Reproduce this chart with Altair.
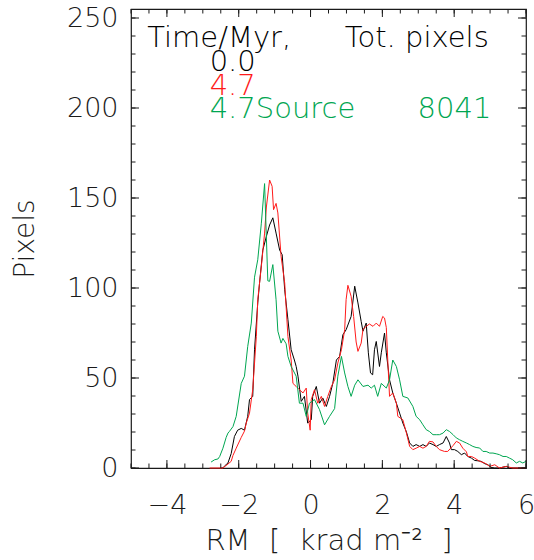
import altair as alt
import pandas as pd

# ---- data ----
rm_black = [-2.49, -2.44, -2.40, -2.30, -2.21, -2.12, -2.03, -1.93, -1.84, -1.75, -1.70, -1.61, -1.56,
            -1.47, -1.42, -1.33, -1.23, -1.14, -1.05, -0.96, -0.86, -0.79, -0.72, -0.63, -0.54, -0.45,
            -0.40, -0.35, -0.26, -0.17, -0.08, 0.02, 0.06, 0.16, 0.25, 0.34, 0.44, 0.53, 0.62, 0.72,
            0.81, 0.90, 0.99, 1.13, 1.23, 1.32, 1.41, 1.46, 1.55, 1.61, 1.67, 1.73, 1.78, 1.83, 1.92,
            1.97, 2.06, 2.11, 2.20, 2.29, 2.39, 2.48, 2.57, 2.67, 2.76, 2.85, 2.94, 3.04, 3.13, 3.22,
            3.31, 3.41, 3.50, 3.59, 3.69, 3.78, 3.87, 3.92, 4.01, 4.10, 4.20, 4.29, 4.38, 4.48, 4.57,
            4.66, 4.75, 4.85, 4.94, 5.03, 5.13, 5.26, 5.45, 5.54, 5.99]
pix_black = [0, 0, 1, 2.8, 8, 17.5, 21, 22, 21, 28.7, 38, 39.8, 65.7,
             91.7, 102.8, 121, 128.7, 135, 139, 130.5, 121, 118.5, 99, 82.4, 65.7, 60,
             56.4, 51, 37, 39.8, 25, 26.8, 39.8, 45.3, 36, 38.9, 34.2, 39.8, 47, 60,
             62, 74, 76.8, 84.2, 101, 91.7, 81.4, 76, 80.5, 64, 52.8, 51.8, 65.7, 70.3, 56.4,
             64, 75, 64, 49, 41.7, 36, 30.5, 25, 20, 13.9, 12, 13, 12, 13, 12,
             13.9, 13, 12, 13, 13.9, 17.5, 13.9, 10.2, 10.2, 9.2, 7.4, 8.3, 6.4, 5.5, 4.2,
             4, 3.7, 2.4, 1.8, 0.3, 0, 0, 0.9, 0, 0]

rm_red = [-2.81, -2.44, -2.30, -2.21, -2.16, -2.07, -1.93, -1.84, -1.79, -1.70, -1.61, -1.51, -1.47,
          -1.37, -1.28, -1.23, -1.14, -1.07, -1.03, -0.96, -0.91, -0.82, -0.72, -0.63, -0.54, -0.49,
          -0.40, -0.31, -0.21, -0.12, -0.08, -0.01, 0.02, 0.11, 0.20, 0.30, 0.39, 0.48, 0.58, 0.67,
          0.76, 0.86, 0.95, 0.99, 1.04, 1.13, 1.20, 1.27, 1.32, 1.41, 1.46, 1.55, 1.64, 1.74, 1.83,
          1.92, 2.01, 2.06, 2.11, 2.15, 2.20, 2.29, 2.39, 2.43, 2.57, 2.67, 2.76, 2.85, 2.94, 3.04,
          3.13, 3.22, 3.31, 3.41, 3.50, 3.59, 3.73, 3.82, 3.97, 4.06, 4.15, 4.24, 4.34, 4.38, 4.48,
          4.57, 4.71, 4.85, 4.99, 5.13, 5.26, 5.45, 5.63, 5.99]
pix_red = [0, 0, 2.2, 3.7, 7, 11, 17, 20.5, 25, 30.5, 43.5, 73, 93.5,
           112, 130.5, 145, 160, 156.5, 143.5, 147, 141.7, 117.5, 102.8, 73, 60, 47,
           45.3, 43.5, 41.7, 44.4, 30.5, 21, 38, 43.5, 36, 39.8, 34.2, 39.8, 45.3, 49,
           58.3, 65.7, 76.8, 93.5, 101.5, 95.4, 84.2, 70, 64.8, 69.4, 77, 78.7, 80, 78.7, 80.5,
           78.7, 84.2, 83.3, 78, 60, 39.8, 41.7, 36, 28.7, 26.8, 19.4, 12, 10.2, 11, 12,
           11, 12, 14.8, 14.5, 12, 10.2, 9.2, 9.2, 12.5, 14.8, 13.9, 11, 9, 6.4, 6.4,
           5.5, 3.7, 2.8, 0.9, 1.8, 0, 0.9, 0, 0]

rm_green = [-2.77, -2.67, -2.58, -2.53, -2.44, -2.35, -2.30, -2.26, -2.16, -2.07, -1.93, -1.84, -1.75,
            -1.65, -1.56, -1.47, -1.37, -1.28, -1.19, -1.14, -1.05, -0.96, -0.91, -0.82, -0.77, -0.68,
            -0.63, -0.54, -0.40, -0.31, -0.21, -0.12, -0.03, 0.11, 0.25, 0.39, 0.53, 0.67, 0.76, 0.86,
            0.95, 1.04, 1.13, 1.23, 1.32, 1.46, 1.60, 1.69, 1.78, 1.87, 1.97, 2.11, 2.20, 2.29, 2.39,
            2.48, 2.57, 2.71, 2.85, 2.94, 3.04, 3.13, 3.22, 3.31, 3.41, 3.50, 3.59, 3.69, 3.78, 3.87,
            3.97, 4.06, 4.15, 4.24, 4.34, 4.43, 4.52, 4.61, 4.71, 4.80, 4.89, 4.99, 5.08, 5.17, 5.26,
            5.36, 5.45, 5.54, 5.63, 5.73, 5.82, 5.91, 6.00]
pix_green = [3.3, 4.6, 5, 6.4, 11, 17, 19.4, 20.3, 23, 28.7, 47, 51, 67.5,
             80.5, 106, 115.7, 136, 158, 104, 103.7, 113, 93.5, 76, 69.4, 72, 69,
             62, 56.4, 51, 36, 36, 28.7, 36, 38, 32.4, 24, 28.7, 33, 51, 62,
             52.8, 45.3, 39.8, 46, 49, 45.3, 46, 44.4, 46, 39.8, 47, 44.4, 49, 60, 56.4,
             49, 39.8, 38.9, 34.2, 28.7, 26.8, 24, 21.3, 20.3, 18.5, 18.5, 18.5, 19.4, 21.3, 20.3,
             18.5, 16.7, 15.7, 14.8, 13.9, 13, 12, 11.4, 11.1, 9.2, 9.2, 8.3, 8.3, 7.9, 7.4,
             6.4, 6.4, 5.5, 4.6, 2.8, 3.7, 2.8, 3.7]

series_names = ["0.0", "4.7", "4.7Source"]
series_colors = ["#000000", "#ff1a1a", "#00a651"]

# legend annotation texts (placed in data coordinates)
note_text = ["Time/Myr,", "Tot. pixels", "0.0", "4.7", "4.7Source", "8041"]
note_series = ["0.0", "0.0", "0.0", "4.7", "4.7Source", "4.7Source"]
note_rm = [-4.55, 0.95, -2.81, -2.81, -2.81, 2.98]
note_pix = [239, 239, 225.5, 212, 199.5, 199.5]

# axis tick values
x_major = [-4, -2, 0, 2, 4, 6]
x_minor = [-5, -4.5, -4, -3.5, -3, -2.5, -2, -1.5, -1, -0.5, 0, 0.5, 1, 1.5, 2, 2.5, 3, 3.5,
           4, 4.5, 5, 5.5, 6]
y_major = [0, 50, 100, 150, 200, 250]
y_minor = [0, 10, 20, 30, 40, 50, 60, 70, 80, 90, 100, 110, 120, 130, 140, 150, 160, 170,
           180, 190, 200, 210, 220, 230, 240, 250]

# ---- build tables ----
lines = pd.concat([
    pd.DataFrame({"rm": rm_black, "pix": pix_black, "series": series_names[0]}),
    pd.DataFrame({"rm": rm_red, "pix": pix_red, "series": series_names[1]}),
    pd.DataFrame({"rm": rm_green, "pix": pix_green, "series": series_names[2]}),
], ignore_index=True)
notes = pd.DataFrame({"rm": note_rm, "pix": note_pix, "text": note_text, "series": note_series})

W, H = 395, 459
FONT = "DejaVu Sans"
FS = 27
FS_NOTE = 29
FW = 200
MAJ, MIN = 8, 4.5
INK = "#1a1a1a"
NB = "\u00a0"

xs = alt.Scale(domain=[-5, 6], nice=False, zero=False)
ys = alt.Scale(domain=[0, 255], nice=False, zero=True)
cs = alt.Scale(domain=series_names, range=series_colors)

x_title = "RM" + NB * 2 + "[" + NB * 2 + "krad" + NB + "m\u207b\u00b2" + NB * 2 + "]"

x_axis = alt.Axis(values=x_major, format="d", ticks=False, tickSize=0, domain=False, grid=False,
                  labelFont=FONT, labelFontSize=FS, labelColor=INK, labelPadding=24,
                  labelFontWeight=FW, labelFlush=False,
                  title=x_title, titleFont=FONT, titleFontSize=29,
                  titleFontWeight=FW, titleColor=INK, titleY=72, titleBaseline="middle")
y_axis = alt.Axis(values=y_major, format="d", ticks=False, tickSize=0, domain=False, grid=False,
                  labelFont=FONT, labelFontSize=FS, labelColor=INK, labelPadding=13,
                  labelFontWeight=FW, labelFlush=False,
                  title="Pixels", titleFont=FONT, titleFontSize=28, titleFontWeight=FW,
                  titleColor=INK, titleX=-106, titleY=H / 2, titleAngle=270,
                  titleBaseline="middle", titleAlign="center")

base_lines = alt.Chart(lines).mark_line(strokeWidth=1).encode(
    x=alt.X("rm:Q", scale=xs, axis=x_axis),
    y=alt.Y("pix:Q", scale=ys, axis=y_axis),
    color=alt.Color("series:N", scale=cs, legend=None),
    detail="series:N",
)

text_layer = alt.Chart(notes).mark_text(align="left", baseline="middle", font=FONT,
                                        fontSize=FS_NOTE, fontWeight=FW).encode(
    x=alt.X("rm:Q", scale=xs, axis=None),
    y=alt.Y("pix:Q", scale=ys, axis=None),
    text="text:N",
    color=alt.Color("series:N", scale=cs, legend=None),
)

def xticks(vals, length):
    d = pd.DataFrame({"t": vals})
    bot = alt.Chart(d).mark_rule(color=INK, strokeWidth=1).encode(
        x=alt.X("t:Q", scale=xs, axis=None), y=alt.value(H), y2=alt.value(H - length))
    top = alt.Chart(d).mark_rule(color=INK, strokeWidth=1).encode(
        x=alt.X("t:Q", scale=xs, axis=None), y=alt.value(0), y2=alt.value(length))
    return [bot, top]

def yticks(vals, length):
    d = pd.DataFrame({"t": vals})
    left = alt.Chart(d).mark_rule(color=INK, strokeWidth=1).encode(
        y=alt.Y("t:Q", scale=ys, axis=None), x=alt.value(0), x2=alt.value(length))
    right = alt.Chart(d).mark_rule(color=INK, strokeWidth=1).encode(
        y=alt.Y("t:Q", scale=ys, axis=None), x=alt.value(W), x2=alt.value(W - length))
    return [left, right]

layers = [base_lines, text_layer] + xticks(x_major, MAJ) + xticks(x_minor, MIN) \
    + yticks(y_major, MAJ) + yticks(y_minor, MIN)

chart = alt.layer(*layers).resolve_axis(x="independent", y="independent").properties(
    width=W, height=H,
    autosize=alt.AutoSizeParams(type="none"),
    padding={"left": 131, "top": 9, "right": 8, "bottom": 92},
    background="white",
).configure_view(stroke=INK, strokeWidth=1.2)

chart.save("out.html", embed_options={"renderer": "svg", "actions": False})
